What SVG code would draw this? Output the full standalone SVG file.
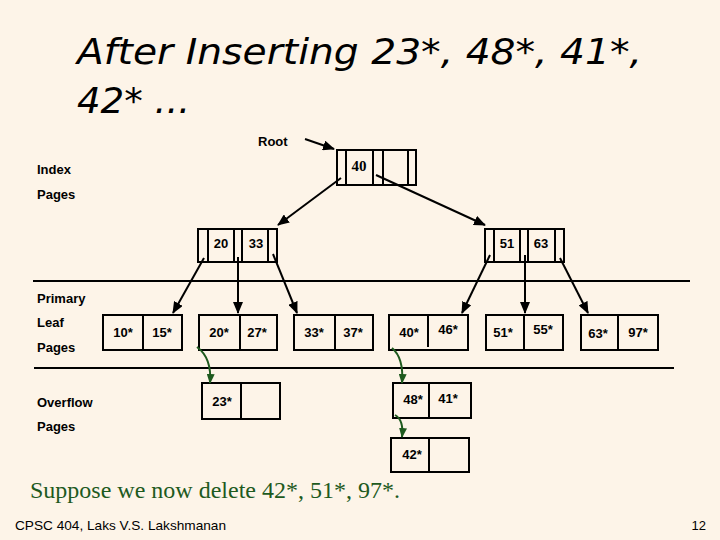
<svg xmlns="http://www.w3.org/2000/svg" width="720" height="540" viewBox="0 0 720 540">
  <style>
    .box { fill: none; stroke: #000; stroke-width: 2; }
    .lbl { font-family: "Liberation Sans", Arial, sans-serif; font-weight: bold; font-size: 13px; fill: #000; }
    .key { font-family: "Liberation Sans", Arial, sans-serif; font-weight: bold; font-size: 13px; fill: #000; text-anchor: middle; }
    .ptr { stroke: #000; stroke-width: 2; fill: none; marker-end: url(#ah); }
    .ovf { stroke: #1e5a1e; stroke-width: 2; fill: none; marker-end: url(#ahg); }
    .sep { stroke: #000; stroke-width: 2; }
  </style>
  <defs>
    <marker id="ah" markerWidth="12" markerHeight="10" refX="11" refY="5" orient="auto" markerUnits="userSpaceOnUse">
      <path d="M0,0 L12,5 L0,10 Z" fill="#000"/>
    </marker>
    <marker id="ahg" markerWidth="10" markerHeight="8" refX="9" refY="4" orient="auto" markerUnits="userSpaceOnUse">
      <path d="M0,0 L10,4 L0,8 Z" fill="#1e5a1e"/>
    </marker>
  </defs>
  <rect width="720" height="540" fill="#fdf4e8"/>

  <!-- Title -->
  <text x="77" y="64" font-family="'DejaVu Sans', sans-serif" font-style="italic" font-size="35" textLength="565" lengthAdjust="spacingAndGlyphs">After Inserting 23*, 48*, 41*,</text>
  <text x="77" y="113" font-family="'DejaVu Sans', sans-serif" font-style="italic" font-size="35" textLength="113" lengthAdjust="spacingAndGlyphs">42* ...</text>

  <!-- Left labels -->
  <text class="lbl" x="37" y="174">Index</text>
  <text class="lbl" x="37" y="199">Pages</text>
  <text class="lbl" x="37" y="303">Primary</text>
  <text class="lbl" x="37" y="327">Leaf</text>
  <text class="lbl" x="37" y="352">Pages</text>
  <text class="lbl" x="37" y="407">Overflow</text>
  <text class="lbl" x="37" y="431">Pages</text>

  <!-- Separator lines -->
  <line class="sep" x1="33" y1="281" x2="690" y2="281"/>
  <line class="sep" x1="34" y1="368" x2="674" y2="368"/>

  <!-- Root label -->
  <text class="lbl" x="258" y="146">Root</text>

  <!-- Root node -->
  <g id="root">
    <rect class="box" x="337" y="150" width="79" height="35"/>
    <line class="sep" x1="346" y1="150" x2="346" y2="185"/>
    <line class="sep" x1="373" y1="150" x2="373" y2="185"/>
    <line class="sep" x1="383" y1="150" x2="383" y2="185"/>
    <line class="sep" x1="408" y1="150" x2="408" y2="185"/>
    <text x="359" y="171" font-family="'Liberation Serif', 'Times New Roman', serif" font-weight="bold" font-size="15" text-anchor="middle">40</text>
  </g>

  <!-- Index node 20/33 -->
  <g id="idx-20-33">
    <rect class="box" x="198" y="229" width="79" height="33"/>
    <line class="sep" x1="208" y1="229" x2="208" y2="262"/>
    <line class="sep" x1="234" y1="229" x2="234" y2="262"/>
    <line class="sep" x1="242" y1="229" x2="242" y2="262"/>
    <line class="sep" x1="268" y1="229" x2="268" y2="262"/>
    <text class="key" x="221" y="248">20</text>
    <text class="key" x="256" y="248">33</text>
  </g>

  <!-- Index node 51/63 -->
  <g id="idx-51-63">
    <rect class="box" x="485" y="229" width="79" height="33"/>
    <line class="sep" x1="494" y1="229" x2="494" y2="262"/>
    <line class="sep" x1="520" y1="229" x2="520" y2="262"/>
    <line class="sep" x1="528" y1="229" x2="528" y2="262"/>
    <line class="sep" x1="555" y1="229" x2="555" y2="262"/>
    <text class="key" x="507" y="248">51</text>
    <text class="key" x="541" y="248">63</text>
  </g>

  <!-- Leaf pages -->
  <g id="leaf-10-15">
    <rect class="box" x="103" y="315" width="79" height="35"/>
    <line class="sep" x1="143" y1="315" x2="143" y2="350"/>
    <text class="key" x="123" y="337">10*</text>
    <text class="key" x="162" y="337">15*</text>
  </g>
  <g id="leaf-20-27">
    <rect class="box" x="199" y="315" width="78" height="35"/>
    <line class="sep" x1="240" y1="315" x2="240" y2="350"/>
    <text class="key" x="219" y="337">20*</text>
    <text class="key" x="257" y="337">27*</text>
  </g>
  <g id="leaf-33-37">
    <rect class="box" x="294" y="315" width="79" height="35"/>
    <line class="sep" x1="335" y1="315" x2="335" y2="350"/>
    <text class="key" x="314" y="337">33*</text>
    <text class="key" x="353" y="337">37*</text>
  </g>
  <g id="leaf-40-46">
    <rect class="box" x="389" y="315" width="79" height="35"/>
    <line class="sep" x1="428" y1="315" x2="428" y2="347"/>
    <text class="key" x="409" y="337">40*</text>
    <text class="key" x="448" y="334">46*</text>
  </g>
  <g id="leaf-51-55">
    <rect class="box" x="486" y="315" width="77" height="35"/>
    <line class="sep" x1="524" y1="315" x2="524" y2="350"/>
    <text class="key" x="503" y="337">51*</text>
    <text class="key" x="543" y="334">55*</text>
  </g>
  <g id="leaf-63-97">
    <rect class="box" x="581" y="315" width="77" height="35"/>
    <line class="sep" x1="618" y1="315" x2="618" y2="350"/>
    <text class="key" x="598" y="338">63*</text>
    <text class="key" x="638" y="337">97*</text>
  </g>

  <!-- Overflow pages -->
  <g id="ovf-23">
    <rect class="box" x="202" y="383" width="78" height="36"/>
    <line class="sep" x1="241" y1="383" x2="241" y2="419"/>
    <text class="key" x="222" y="406">23*</text>
  </g>
  <g id="ovf-48-41">
    <rect class="box" x="393" y="383" width="78" height="35"/>
    <line class="sep" x1="429" y1="383" x2="429" y2="418"/>
    <text class="key" x="413" y="404">48*</text>
    <text class="key" x="448" y="403">41*</text>
  </g>
  <g id="ovf-42">
    <rect class="box" x="391" y="438" width="78" height="34"/>
    <line class="sep" x1="429" y1="438" x2="429" y2="472"/>
    <text class="key" x="412" y="459">42*</text>
  </g>

  <!-- Connectors -->
  <g id="connectors">
    <line class="ptr" x1="305" y1="139" x2="334" y2="149"/>
    <line class="ptr" x1="341" y1="178" x2="278" y2="225"/>
    <line class="ptr" x1="376" y1="175" x2="485" y2="225"/>
    <line class="ptr" x1="204" y1="258" x2="173" y2="313"/>
    <line class="ptr" x1="238" y1="257" x2="238" y2="313"/>
    <line class="ptr" x1="273" y1="254" x2="297" y2="313"/>
    <line class="ptr" x1="490" y1="255" x2="462" y2="313"/>
    <line class="ptr" x1="525" y1="255" x2="525" y2="313"/>
    <line class="ptr" x1="560" y1="258" x2="588" y2="313"/>
    <path class="ovf" d="M197,347 Q212,358 210,383"/>
    <path class="ovf" d="M392,348 Q404,358 402,383"/>
    <path class="ovf" d="M395,415 Q404,420 402,437"/>
  </g>

  <!-- Bottom text -->
  <text x="30" y="498" font-family="'Liberation Serif', 'Times New Roman', serif" font-size="24" fill="#1e5a1e">Suppose we now delete 42*, 51*, 97*.</text>
  <text x="15" y="530" font-family="'Liberation Sans', Arial, sans-serif" font-size="13" textLength="211" lengthAdjust="spacingAndGlyphs" fill="#000">CPSC 404, Laks V.S. Lakshmanan</text>
  <text x="706" y="530" font-family="'Liberation Sans', Arial, sans-serif" font-size="13" text-anchor="end" fill="#000">12</text>
</svg>
